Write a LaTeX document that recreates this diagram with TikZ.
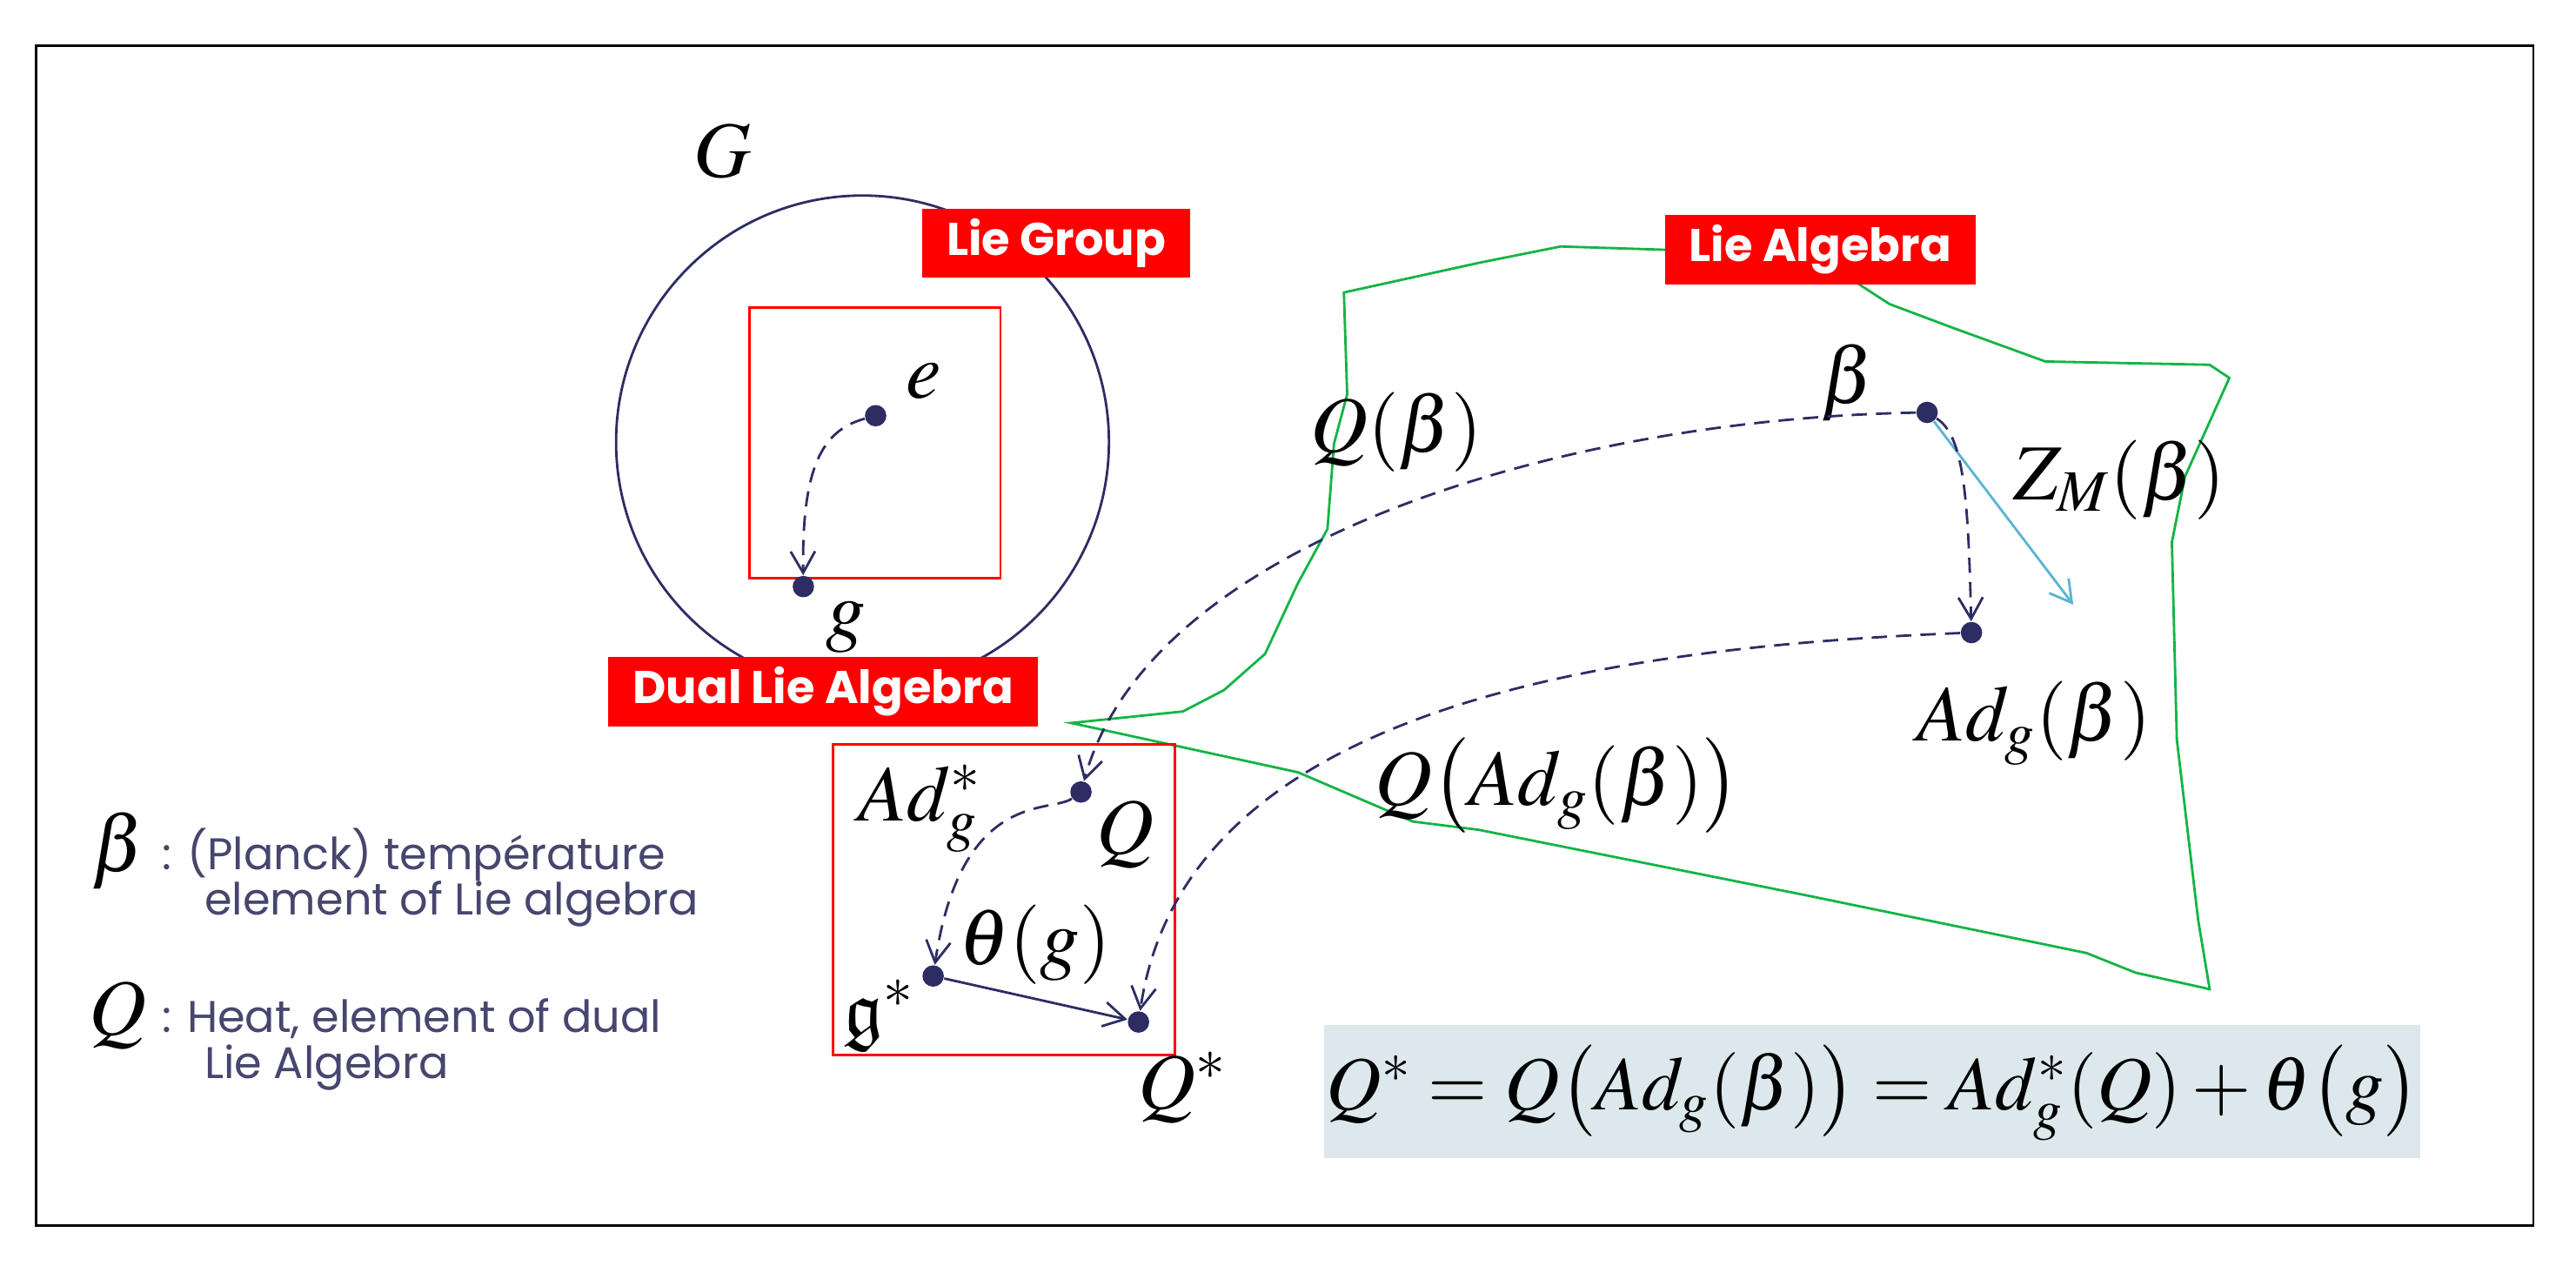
\documentclass[tikz,border=0pt]{standalone}
\usepackage{amssymb}
\usepackage{mathptmx}
\usepackage{fontspec}
\setsansfont{Poppins}
\usetikzlibrary{arrows.meta}
\definecolor{navy}{RGB}{45,45,100}
\definecolor{lgreen}{RGB}{20,180,70}
\definecolor{eqbg}{RGB}{220,232,236}
\definecolor{legend}{RGB}{70,70,110}
\definecolor{cy}{RGB}{90,180,210}
\begin{document}
\begin{tikzpicture}[x=0.018884cm,y=-0.018884cm,
  dot/.style={circle,fill=navy,inner sep=0pt,minimum size=7pt},
  lab/.style={fill=red,text=white,font=\sffamily\bfseries\fontsize{15}{17}\selectfont,minimum height=20pt,inner xsep=8pt},
  m/.style={font=\fontsize{26}{28}\selectfont},
  dsh/.style={navy,thick,dash pattern=on 5pt off 3pt,-{Straight Barb[length=7pt,width=8pt]}},
  leg/.style={text=legend,font=\sffamily\fontsize{14.5}{16}\selectfont,anchor=west}]
\useasboundingbox (0,0) rectangle (1568,770);
\draw[thick] (22,28) rectangle (1542,746);
% Lie group
\draw[navy,thick] (525,269) circle (150);
\node[m] (G) at (440,92) {$G$};
\draw[red,thick] (456,187) rectangle (609,352);
\node[dot] (e) at (533,253) {};
\node[m] (el) at (562,232) {$e$};
\node[dot] (g) at (489,357) {};
\node[m] (gl) at (515,382) {$g$};
\draw[dsh] (e) .. controls (500,262) and (488,285) .. (g);
\node[lab] (LG) at (643,148) {Lie Group};
% Lie algebra outline
\draw[lgreen,thick] (652,440) -- (720,433) -- (745,420) -- (770,398) -- (790,355) -- (808,322) -- (812,270) -- (820,240) -- (818,178)
  -- (900,160) -- (950,150) -- (1013,152) -- (1130,172) -- (1150,185) -- (1190,200) -- (1245,220) -- (1345,222) -- (1357,230)
  -- (1330,290) -- (1322,330) -- (1325,450) -- (1338,560) -- (1345,602) -- (1300,592) -- (1270,580) -- (1100,545) -- (1000,525)
  -- (900,505) -- (860,500) -- (790,470) -- cycle;
\node[lab] (LA) at (1108,152) {Lie Algebra};
\node[dot] (b) at (1173,251) {};
\node[m] (bl) at (1125,233) {$\beta$};
\node[m] (Qb) at (850,263) {$Q(\beta)$};
\node[m] (Z) at (1290,292) {$Z_M(\beta)$};
\coordinate (zt) at (1262,368);
\draw[cy,thick,-{Straight Barb[length=7pt,width=8pt]}] (b) -- (zt);
\node[dot] (adb) at (1200,385) {};
\node[m] (adl) at (1238,440) {$Ad_g(\beta)$};
\draw[dsh] (b) .. controls (1195,265) and (1198,300) .. (adb);
% Dual
\node[lab] (DLA) at (501,421) {Dual Lie Algebra};
\draw[red,thick] (507,453) rectangle (715,642);
\node[dot] (Q) at (658,482) {};
\node[m] (Ql) at (685,508) {$Q$};
\node[m] (adsl) at (560,492) {$Ad_g^*$};
\node[dot] (gs) at (568,594) {};
\node[m] (gsl) at (535,618) {$\mathfrak{g}^*$};
\node[dot] (Qs) at (693,622) {};
\node[m] (Qsl) at (720,662) {$Q^*$};
\node[m] (th) at (630,575) {$\theta(g)$};
\draw[navy,thick,-{Straight Barb[length=7pt,width=8pt]}] (gs) -- (Qs);
\draw[dsh] (b) .. controls (950,255) and (700,330) .. (Q);
\draw[dsh] (adb) .. controls (950,395) and (720,440) .. (Qs);
\draw[dsh] (Q) .. controls (640,495) and (585,480) .. (gs);
\node[m] (QA) at (948,478) {$Q\bigl(Ad_g(\beta)\bigr)$};
% equation
\fill[eqbg] (806,624) rectangle (1473,705);
\node[font=\fontsize{25}{27}\selectfont] (eq) at (1140,665)
  {$Q^*=Q\bigl(Ad_g(\beta)\bigr)=Ad^*_g(Q)+\theta\bigl(g\bigr)$};
% legend
\node[m] (lb) at (72,518) {$\beta$};
\node[leg] (t1) at (92,520) {: (Planck) température};
\node[leg] (t2) at (118,550) {element of Lie algebra};
\node[m] (lq) at (72,618) {$Q$};
\node[leg] (t3) at (92,620) {: Heat, element of dual};
\node[leg] (t4) at (118,650) {Lie Algebra};
\end{tikzpicture}
\end{document}
